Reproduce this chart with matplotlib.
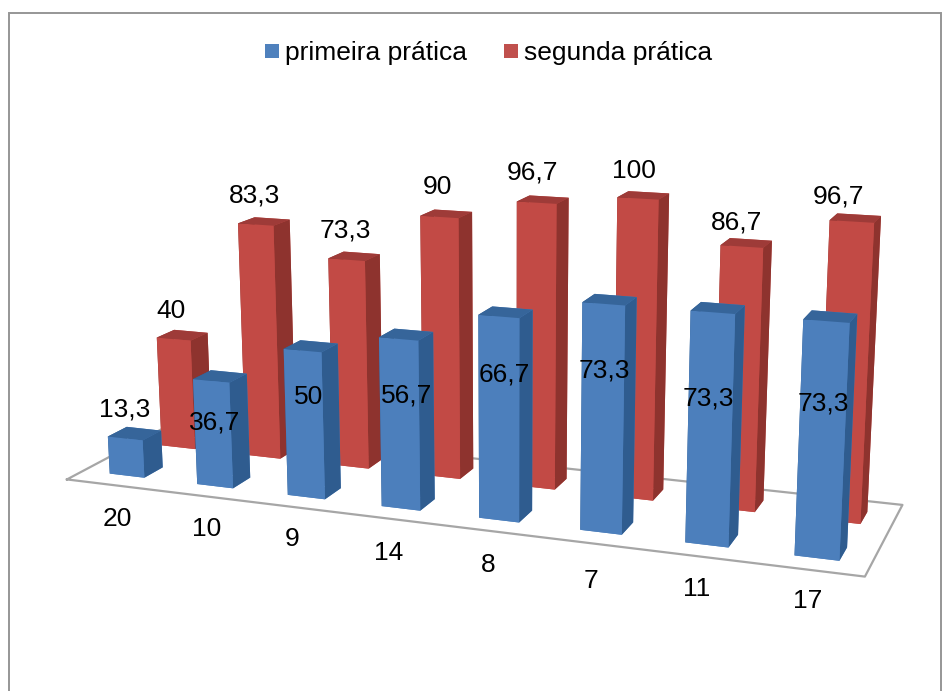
import matplotlib
matplotlib.use("Agg")
import matplotlib.pyplot as plt
from matplotlib.patches import Rectangle
import numpy as np

plt.rcParams['font.family'] = ['Liberation Sans', 'DejaVu Sans']

WIDTH, HEIGHT = 948, 691

# Values per class, first and second session
turmas = ["20", "10", "9", "14", "8", "7", "11", "17"]
primeira = [13.3, 36.7, 50, 56.7, 66.7, 73.3, 73.3, 73.3]
segunda = [40, 83.3, 73.3, 90, 96.7, 100, 86.7, 96.7]

# Face colours: front, top, side
AZUL = ("#4C7FBC", "#36659A", "#2F5C8F")
VERMELHO = ("#C24A45", "#9E3B38", "#8E332E")

# Text anchors in pixels, measured from the top-left corner
pos_primeira = [(125, 408), (215, 421), (309, 396), (407, 394), (504, 373), (604, 369), (708, 397), (823, 402)]
pos_segunda = [(171, 309), (255, 194), (345, 229), (437, 186), (533, 171), (634, 169), (737, 221), (839, 195)]
pos_turmas = [(117, 517), (207, 528), (292, 538), (389, 551), (488, 563), (591, 579), (697, 588), (808, 600)]


def rotulo(x, y, s, **kw):
    return fig.text(x / WIDTH, 1 - (y + 1.5) / HEIGHT, s, fontsize=19, color="black",
                    ha="center", va="center", **kw)


def decimal(v):
    return f"{v:g}".replace(".", ",")


fig = plt.figure(figsize=(WIDTH / 100, HEIGHT / 100), dpi=100)
ax = fig.add_axes([0, 0, 1, 1], projection="3d")
ax.set_axis_off()
ax.computed_zorder = False

# Camera
ax.view_init(elev=13.94, azim=-69.15, roll=0.25)
ax.set_proj_type("persp", focal_length=0.4115)
x0, x1 = -0.3039, 7.6792
y0, y1 = -0.3163, 1.7479
ax.set_xlim(x0, x1)
ax.set_ylim(y0, y1)
ax.set_zlim(0, 100)
ax.set_box_aspect((1, 0.2585, 0.3688))

# Put the projected scene at the wanted scale and place on the canvas
escala, um, vm, xm, ym = 4768.881, -0.01158, -0.01445, 419.22, 415.22
ax.apply_aspect()
t = ax.transData.transform([(0, 0), (1, 0)])
lado = ax.get_position().width * WIDTH * escala / (t[1, 0] - t[0, 0])
ax.set_position([0, 0, lado / WIDTH, lado / HEIGHT])
ax.apply_aspect()
c = ax.transData.transform([(um, vm)])[0]
ax.set_position([(xm - c[0]) / WIDTH, (HEIGHT - ym - c[1]) / HEIGHT, lado / WIDTH, lado / HEIGHT])

# Floor of the chart
ax.plot([x0, x1, x1, x0, x0], [y0, y0, y1, y1, y0], [0, 0, 0, 0, 0],
        color="#A6A6A6", lw=1.6, zorder=1, clip_on=False)

LARGURA, PROFUNDIDADE = 0.4, 0.37
FILA_FUNDO = 1.0516


def barras(y, valores, paleta, base):
    frente, topo, lado_ = paleta
    for i, v in enumerate(valores):
        # bar3d face order: bottom, top, front, back, left, right
        cores = [frente, topo, frente, frente, lado_, lado_]
        col = ax.bar3d(i, y, 0, LARGURA, PROFUNDIDADE, v, color=cores, shade=False,
                       edgecolor="none", zorder=base + i)
        col.set_clip_on(False)


barras(FILA_FUNDO, segunda, VERMELHO, 10)
barras(0.0, primeira, AZUL, 30)

for (x, y), v in zip(pos_segunda, segunda):
    rotulo(x, y, decimal(v))
for (x, y), v in zip(pos_primeira, primeira):
    rotulo(x, y, decimal(v))
for (x, y), s in zip(pos_turmas, turmas):
    rotulo(x, y, s)

# Legend
for x, cor, nome in [(265, "#4F81BD", "primeira prática"), (504, "#C0504D", "segunda prática")]:
    fig.add_artist(Rectangle((x / WIDTH, 1 - 58 / HEIGHT), 14 / WIDTH, 14 / HEIGHT, fc=cor, ec="none",
                             transform=fig.transFigure))
    fig.text((x + 20) / WIDTH, 1 - 53 / HEIGHT, nome, fontsize=19, ha="left", va="center")

# Chart frame
fig.add_artist(Rectangle((8.5 / WIDTH, -2 / HEIGHT), 932 / WIDTH, (HEIGHT - 11) / HEIGHT, fill=False,
                         ec="#969696", lw=1.4, transform=fig.transFigure))

fig.savefig("out.png", dpi=100)
